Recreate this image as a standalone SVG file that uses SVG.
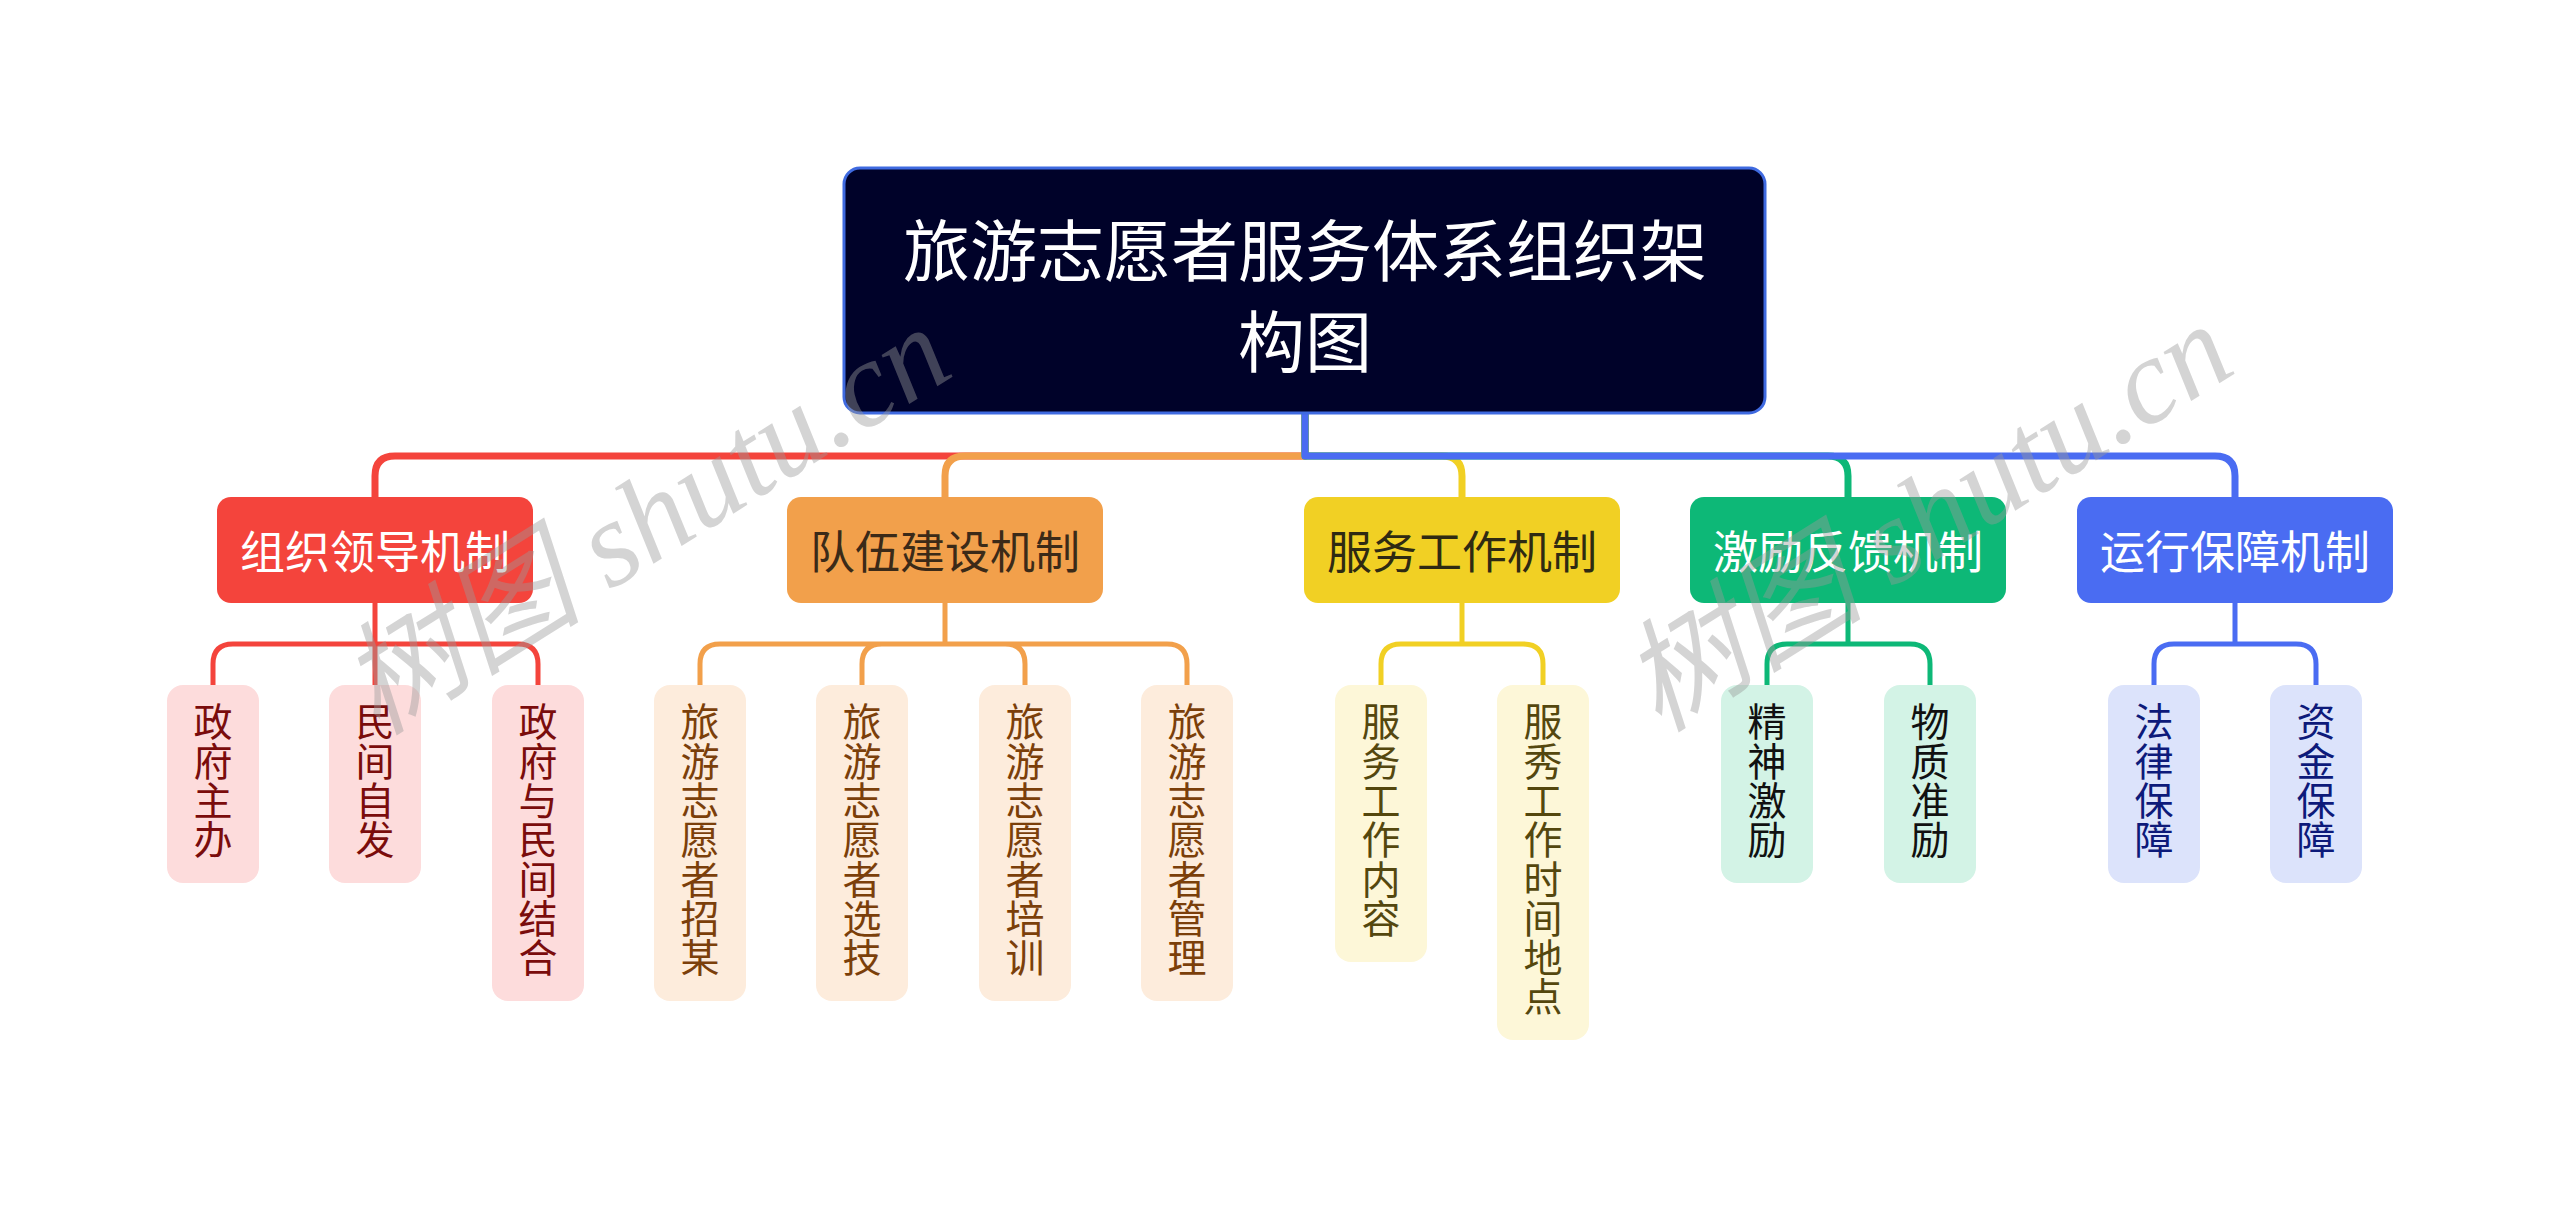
<svg xmlns="http://www.w3.org/2000/svg" width="2560" height="1207" viewBox="0 0 2560 1207">
<style>
text{font-family:"Noto Sans CJK SC","Noto Sans",sans-serif;}
.c1{fill:none;stroke-width:7;stroke-linejoin:round;}
.c2{fill:none;stroke-width:5;stroke-linejoin:round;}
.l1 text{font-size:45px;text-anchor:middle;dominant-baseline:central;}
.l2 text{font-size:39px;writing-mode:vertical-rl;text-orientation:upright;letter-spacing:0.3px;text-anchor:start;}
.wm{font-family:"Liberation Serif","Noto Sans CJK SC",serif;font-style:italic;font-size:122px;fill:#9a9a9a;opacity:0.42;text-anchor:middle;dominant-baseline:central;}
</style>
<rect width="2560" height="1207" fill="#ffffff"/>
<g id="connectors">
<path class="c1" stroke="#f4443c" d="M1305,413 V456 H395 Q375,456 375,476 V497"/>
<path class="c1" stroke="#f2a04b" d="M1305,413 V456 H965 Q945,456 945,476 V497"/>
<path class="c1" stroke="#f1d024" d="M1305,413 V456 H1442 Q1462,456 1462,476 V497"/>
<path class="c1" stroke="#0db877" d="M1305,413 V456 H1828 Q1848,456 1848,476 V497"/>
<path class="c1" stroke="#4a6cf2" d="M1305,413 V456 H2215 Q2235,456 2235,476 V497"/>
<path class="c2" stroke="#f4443c" d="M375,603 V644 H233 Q213,644 213,664 V686 M375,603 V686 M375,644 H518 Q538,644 538,664 V686"/>
<path class="c2" stroke="#f2a04b" d="M945,603 V644 H720 Q700,644 700,664 V686 M945,644 H882 Q862,644 862,664 V686 M945,644 H1005 Q1025,644 1025,664 V686 M945,644 H1167 Q1187,644 1187,664 V686"/>
<path class="c2" stroke="#f1d024" d="M1462,603 V644 H1401 Q1381,644 1381,664 V686 M1462,644 H1523 Q1543,644 1543,664 V686"/>
<path class="c2" stroke="#0db877" d="M1848,603 V644 H1787 Q1767,644 1767,664 V686 M1848,644 H1910 Q1930,644 1930,664 V686"/>
<path class="c2" stroke="#4a6cf2" d="M2235,603 V644 H2174 Q2154,644 2154,664 V686 M2235,644 H2296 Q2316,644 2316,664 V686"/>
</g>
<g id="root">
<rect x="844" y="168" width="921" height="245" rx="16" fill="#000229" stroke="#3f6ae0" stroke-width="3"/>
<text x="1305" y="246" font-size="67" fill="#ffffff" text-anchor="middle" dominant-baseline="central">旅游志愿者服务体系组织架</text>
<text x="1305" y="337" font-size="67" fill="#ffffff" text-anchor="middle" dominant-baseline="central">构图</text>
</g>
<g id="n1" class="l1"><rect x="217" y="497" width="316" height="106" rx="14" fill="#f4443c"/><text x="375" y="549" fill="#ffffff">组织领导机制</text></g>
<g id="n2" class="l1"><rect x="787" y="497" width="316" height="106" rx="14" fill="#f2a04b"/><text x="945" y="549" fill="#3b2a18">队伍建设机制</text></g>
<g id="n3" class="l1"><rect x="1304" y="497" width="316" height="106" rx="14" fill="#f1d024"/><text x="1462" y="549" fill="#2f2a12">服务工作机制</text></g>
<g id="n4" class="l1"><rect x="1690" y="497" width="316" height="106" rx="14" fill="#0db877"/><text x="1848" y="549" fill="#ffffff">激励反馈机制</text></g>
<g id="n5" class="l1"><rect x="2077" y="497" width="316" height="106" rx="14" fill="#4a6cf2"/><text x="2235" y="549" fill="#ffffff">运行保障机制</text></g>
<g id="n1a" class="l2"><rect x="167" y="685" width="92" height="198" rx="16" fill="#fddcdc"/><text x="213" y="702" fill="#7a0c0c">政府主办</text></g>
<g id="n1b" class="l2"><rect x="329" y="685" width="92" height="198" rx="16" fill="#fddcdc"/><text x="375" y="702" fill="#7a0c0c">民间自发</text></g>
<g id="n1c" class="l2"><rect x="492" y="685" width="92" height="316" rx="16" fill="#fddcdc"/><text x="538" y="702" fill="#7a0c0c">政府与民间结合</text></g>
<g id="n2a" class="l2"><rect x="654" y="685" width="92" height="316" rx="16" fill="#fdecdc"/><text x="700" y="702" fill="#7b3f0a">旅游志愿者招某</text></g>
<g id="n2b" class="l2"><rect x="816" y="685" width="92" height="316" rx="16" fill="#fdecdc"/><text x="862" y="702" fill="#7b3f0a">旅游志愿者选技</text></g>
<g id="n2c" class="l2"><rect x="979" y="685" width="92" height="316" rx="16" fill="#fdecdc"/><text x="1025" y="702" fill="#7b3f0a">旅游志愿者培训</text></g>
<g id="n2d" class="l2"><rect x="1141" y="685" width="92" height="316" rx="16" fill="#fdecdc"/><text x="1187" y="702" fill="#7b3f0a">旅游志愿者管理</text></g>
<g id="n3a" class="l2"><rect x="1335" y="685" width="92" height="277" rx="16" fill="#fdf7d8"/><text x="1381" y="702" fill="#54470e">服务工作内容</text></g>
<g id="n3b" class="l2"><rect x="1497" y="685" width="92" height="355" rx="16" fill="#fdf7d8"/><text x="1543" y="702" fill="#54470e">服秀工作时间地点</text></g>
<g id="n4a" class="l2"><rect x="1721" y="685" width="92" height="198" rx="16" fill="#d3f3e6"/><text x="1767" y="702" fill="#111111">精神激励</text></g>
<g id="n4b" class="l2"><rect x="1884" y="685" width="92" height="198" rx="16" fill="#d3f3e6"/><text x="1930" y="702" fill="#111111">物质准励</text></g>
<g id="n5a" class="l2"><rect x="2108" y="685" width="92" height="198" rx="16" fill="#dce3fb"/><text x="2154" y="702" fill="#0d1a7a">法律保障</text></g>
<g id="n5b" class="l2"><rect x="2270" y="685" width="92" height="198" rx="16" fill="#dce3fb"/><text x="2316" y="702" fill="#0d1a7a">资金保障</text></g>
<g id="watermark">
<text class="wm" transform="translate(645,520) rotate(-32)">树图 shutu.cn</text>
<text class="wm" transform="translate(1927,517) rotate(-32)">树图 shutu.cn</text>
</g>
</svg>
